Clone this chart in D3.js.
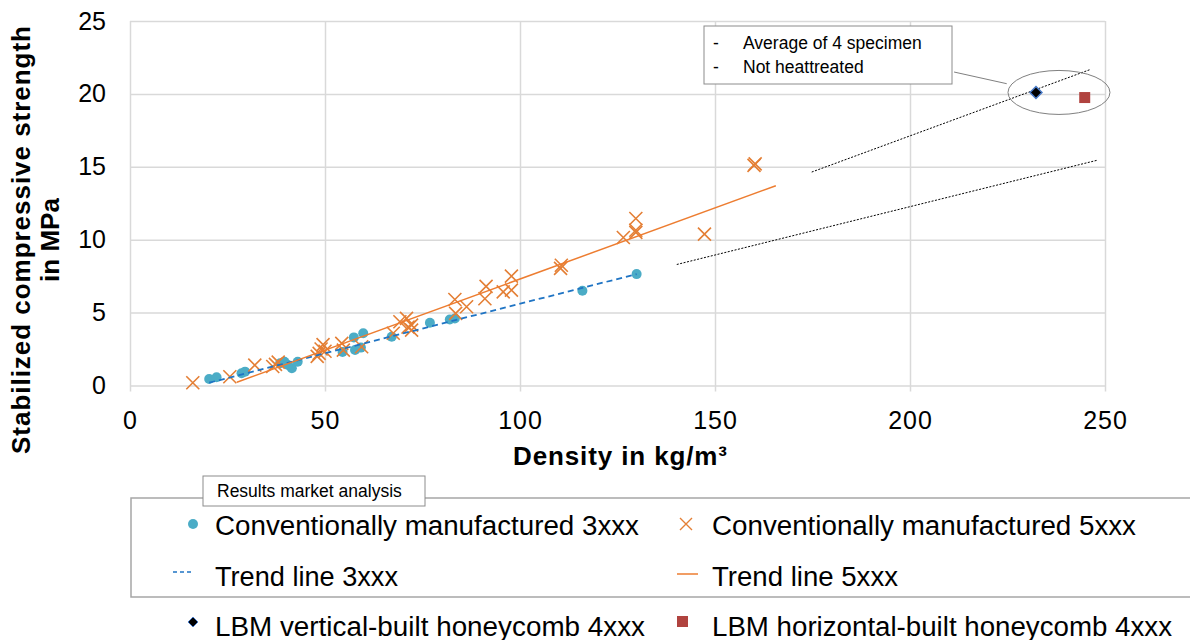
<!DOCTYPE html>
<html lang="en">
  <head>
    <meta charset="utf-8">
    <title>Compressive strength vs density</title>
    <script src="https://d3js.org/d3.v7.min.js"></script>
    <style>
      body { margin: 0; background: #fff; }
      text { font-family: "Liberation Sans", Arial, sans-serif; fill: #000; }
    </style>
  </head>

  <body>

  <script>

// Data

  var density3xxx  = [20.3, 22.2, 28.6, 29.5, 38.5, 39.6, 41.5, 43.0, 40.5, 54.5, 57.4, 57.7, 59.8, 59.2, 67.1, 76.9, 82.0, 83.3, 116.0, 129.9];
  var strength3xxx = [0.45, 0.56, 0.84, 0.95, 1.52, 1.63, 1.18, 1.63, 1.40, 2.30, 3.30, 2.43, 3.58, 2.60, 3.34, 4.30, 4.53, 4.60, 6.50, 7.64];

  var density5xxx  = [16.1, 25.6, 32.0, 36.6, 37.3, 38.0, 48.0, 48.5, 49.0, 49.5, 50.0, 54.3, 54.7, 59.4, 67.5, 69.2, 70.9, 72.2, 71.3, 72.2,
                      83.3, 83.5, 86.3, 91.0, 91.3, 95.7, 97.8, 97.8, 110.4, 110.6, 126.5, 129.7, 129.7, 129.7, 147.3, 160.0, 160.3];
  var strength5xxx = [0.19, 0.60, 1.40, 1.30, 1.45, 1.60, 2.00, 2.20, 2.50, 2.80, 2.35, 2.89, 2.43, 2.66, 3.58, 4.37, 4.60, 4.14, 4.00, 3.80,
                      5.90, 4.95, 5.40, 5.95, 6.80, 6.42, 6.54, 7.50, 8.03, 8.25, 10.15, 10.50, 10.65, 11.45, 10.38, 15.10, 15.20];

  var trend3xxxDensity  = [20.3, 129.9];
  var trend3xxxStrength = [0.19, 7.64];
  var trend5xxxDensity  = [27.4, 165.6];
  var trend5xxxStrength = [0.22, 13.7];

  var extraUpperDensity  = [174.8, 246.3];
  var extraUpperStrength = [14.64, 21.68];
  var extraLowerDensity  = [140.2, 248.0];
  var extraLowerStrength = [8.3, 15.45];

  var lbmVertical   = [232.3, 20.1];
  var lbmHorizontal = [244.8, 19.75];

  var xTicks = [0, 50, 100, 150, 200, 250];
  var yTicks = [0, 5, 10, 15, 20, 25];

  var annotationLines = ["Average of 4 specimen", "Not heattreated"];
  var legendLabels = ["Conventionally manufactured 3xxx", "Conventionally manufactured 5xxx",
                      "Trend line 3xxx", "Trend line 5xxx",
                      "LBM vertical-built honeycomb 4xxx", "LBM horizontal-built honeycomb 4xxx"];

// Svg and scales

  var w = 1190;
  var h = 640;
  var plot = {left: 130, right: 1105, top: 21, bottom: 385.5};

  var svg = d3.select("body")
    .append("svg")
      .attr("width", w)
      .attr("height", h);

  var xScale = d3.scaleLinear()
      .domain([0, 250])
      .range([plot.left, plot.right]);

  var yScale = d3.scaleLinear()
      .domain([0, 25])
      .range([plot.bottom, plot.top]);

  var orange = "#e47f35";
  var blue = "#4bacc6";

// Grid and axes

  var xAxis = svg.append("g")
      .attr("transform", `translate(0, ${plot.bottom})`)
      .call(d3.axisBottom(xScale).tickValues(xTicks).tickSize(-(plot.bottom - plot.top)).tickPadding(26));
  xAxis.select(".domain").remove();
  xAxis.selectAll("line").attr("stroke", "#d9d9d9").attr("stroke-width", 1.5)
      .attr("y1", 6);
  xAxis.selectAll("text").attr("font-size", 25).attr("letter-spacing", 1)
      .attr("font-family", "Liberation Sans, Arial, sans-serif");

  var yAxis = svg.append("g")
      .attr("transform", `translate(${plot.left}, 0)`)
      .call(d3.axisLeft(yScale).tickValues(yTicks).tickSize(-(plot.right - plot.left)).tickPadding(24));
  yAxis.select(".domain").remove();
  yAxis.selectAll("line").attr("stroke", "#d9d9d9").attr("stroke-width", 1.5);
  yAxis.selectAll("text").attr("font-size", 25).attr("font-family", "Liberation Sans, Arial, sans-serif");

  svg.append("text")
      .attr("x", 620)
      .attr("y", 465)
      .attr("text-anchor", "middle")
      .attr("font-size", 26)
      .attr("font-weight", "bold")
      .attr("textLength", 214)
      .text("Density in kg/m³");

  var yTitle = ["Stabilized compressive strength", "in MPa"];
  svg.selectAll(".ytitle")
      .data(yTitle)
    .enter().append("text")
      .attr("transform", (d, i) => `translate(${30 + i * 29}, 240) rotate(-90)`)
      .attr("text-anchor", "middle")
      .attr("font-size", 26)
      .attr("font-weight", "bold")
      .attr("textLength", (d, i) => i == 0 ? 428 : null)
      .text(d => d);

// Lines

  var line = d3.line()
      .x(d => xScale(d[0]))
      .y(d => yScale(d[1]));

  svg.append("path")
      .attr("d", line(d3.zip(extraUpperDensity, extraUpperStrength)))
      .attr("stroke", "#000").attr("stroke-width", 1).attr("stroke-dasharray", "2,1.5").attr("fill", "none");
  svg.append("path")
      .attr("d", line(d3.zip(extraLowerDensity, extraLowerStrength)))
      .attr("stroke", "#000").attr("stroke-width", 1).attr("stroke-dasharray", "2,1.5").attr("fill", "none");

// Points

  svg.append("g").selectAll("circle")
      .data(d3.zip(density3xxx, strength3xxx))
    .enter().append("circle")
      .attr("cx", d => xScale(d[0]))
      .attr("cy", d => yScale(d[1]))
      .attr("r", 5)
      .attr("fill", blue);

  svg.append("g").selectAll("path")
      .data(d3.zip(density5xxx, strength5xxx))
    .enter().append("path")
      .attr("transform", d => `translate(${xScale(d[0])}, ${yScale(d[1])})`)
      .attr("d", "M-6.5,-6.5L6.5,6.5M6.5,-6.5L-6.5,6.5")
      .attr("stroke", orange)
      .attr("stroke-width", 1.6)
      .attr("fill", "none");

  svg.append("path")
      .attr("d", line(d3.zip(trend3xxxDensity, trend3xxxStrength)))
      .attr("stroke", "#1f74c4").attr("stroke-width", 1.8).attr("stroke-dasharray", "6,4").attr("fill", "none");
  svg.append("path")
      .attr("d", line(d3.zip(trend5xxxDensity, trend5xxxStrength)))
      .attr("stroke", "#ed7d31").attr("stroke-width", 1.5).attr("fill", "none");

  svg.append("path")
      .attr("transform", `translate(${xScale(lbmVertical[0])}, ${yScale(lbmVertical[1])})`)
      .attr("d", "M0,-6L6,0L0,6L-6,0Z")
      .attr("fill", "#000").attr("stroke", "#4a7cc9").attr("stroke-width", 1.5);

  svg.append("rect")
      .attr("x", xScale(lbmHorizontal[0]) - 5.5)
      .attr("y", yScale(lbmHorizontal[1]) - 5.5)
      .attr("width", 11).attr("height", 11)
      .attr("fill", "#b0433f");

// Annotation

  svg.append("ellipse")
      .attr("cx", xScale(238.2)).attr("cy", yScale(20.1))
      .attr("rx", 51).attr("ry", 22)
      .attr("fill", "none").attr("stroke", "#808080").attr("stroke-width", 1);

  svg.append("line")
      .attr("x1", xScale(211.3)).attr("y1", yScale(21.5))
      .attr("x2", xScale(224.8)).attr("y2", yScale(20.7))
      .attr("stroke", "#808080");

  svg.append("rect")
      .attr("x", 704).attr("y", 26).attr("width", 248).attr("height", 58)
      .attr("fill", "#fff").attr("stroke", "#8c8c8c");

  var note = svg.append("g").selectAll("g")
      .data(annotationLines)
    .enter().append("g")
      .attr("transform", (d, i) => `translate(0, ${49 + i * 23.5})`);
  note.append("text").attr("x", 713).attr("font-size", 17.5).text("-");
  note.append("text").attr("x", 743).attr("font-size", 17.5).text(d => d);

// Legend

  svg.append("rect")
      .attr("x", 131).attr("y", 498).attr("width", 1080).attr("height", 99)
      .attr("fill", "#fff").attr("stroke", "#a6a6a6").attr("stroke-width", 1.5);

  svg.append("rect")
      .attr("x", 203).attr("y", 476).attr("width", 222).attr("height", 30)
      .attr("fill", "#fff").attr("stroke", "#8c8c8c");
  svg.append("text")
      .attr("x", 217).attr("y", 497)
      .attr("font-size", 17.5)
      .text("Results market analysis");

  var colX = [215, 712];
  var rowY = [525, 576, 626];
  var legendWidth = [424, 424, 183, 186, 430, 460];

  svg.append("g").selectAll("text")
      .data(legendLabels)
    .enter().append("text")
      .attr("x", (d, i) => colX[i % 2])
      .attr("y", (d, i) => rowY[Math.floor(i / 2)] + 9.5)
      .attr("font-size", 27)
      .attr("textLength", (d, i) => legendWidth[i])
      .attr("lengthAdjust", "spacingAndGlyphs")
      .text(d => d);

  svg.append("circle").attr("cx", 193).attr("cy", rowY[0] - 1).attr("r", 5).attr("fill", blue);
  svg.append("path")
      .attr("transform", `translate(686, ${rowY[0] - 1})`)
      .attr("d", "M-6,-6L6,6M6,-6L-6,6")
      .attr("stroke", orange).attr("stroke-width", 1.4);
  svg.append("line")
      .attr("x1", 173).attr("x2", 193).attr("y1", rowY[1] - 4).attr("y2", rowY[1] - 4)
      .attr("stroke", "#1f74c4").attr("stroke-width", 1.5).attr("stroke-dasharray", "4,3");
  svg.append("line")
      .attr("x1", 677).attr("x2", 698).attr("y1", rowY[1] - 2).attr("y2", rowY[1] - 2)
      .attr("stroke", "#ed7d31").attr("stroke-width", 1.5);
  svg.append("path")
      .attr("transform", `translate(193, ${rowY[2] - 4})`)
      .attr("d", "M0,-5L5,0L0,5L-5,0Z")
      .attr("fill", "#000").attr("stroke", "#4a7cc9").attr("stroke-width", 1);
  svg.append("rect")
      .attr("x", 677).attr("y", rowY[2] - 10).attr("width", 11).attr("height", 11)
      .attr("fill", "#b0433f");

  </script>

  </body>

</html>
